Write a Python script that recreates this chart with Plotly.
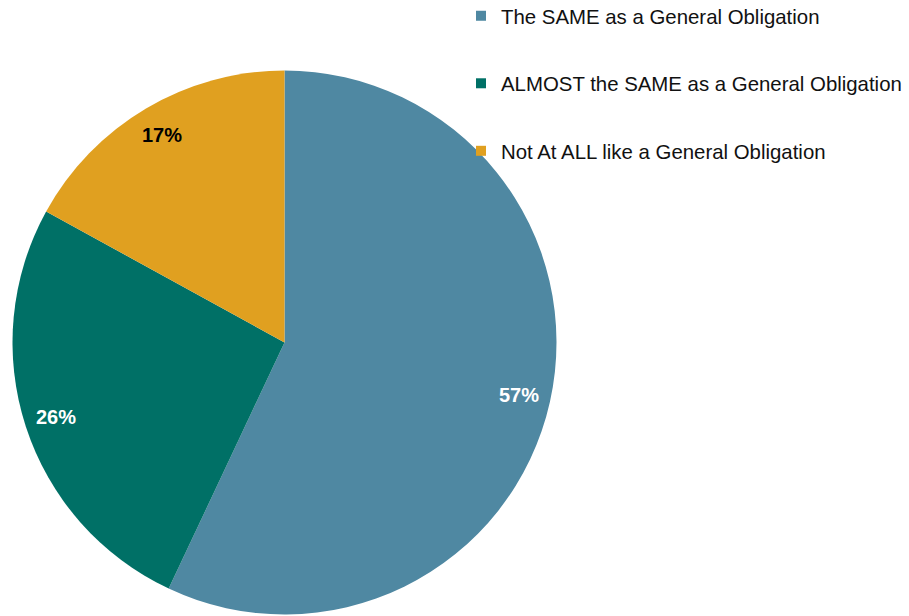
import math
import plotly.graph_objects as go

# Survey answer categories and their shares (%)
categories = [
    "The SAME as a General Obligation",
    "ALMOST the SAME as a General Obligation",
    "Not At ALL like a General Obligation",
]
shares = [57, 26, 17]
colors = ["#4f88a2", "#007066", "#e0a020"]
label_colors = ["white", "white", "black"]

W, H = 909, 616
FONT = "Liberation Sans, Arial, sans-serif"

# pie geometry in pixels
cx, cy, R = 284.5, 342.5, 272.0

fig = go.Figure()

fig.add_trace(go.Pie(
    labels=categories,
    values=shares,
    sort=False,
    direction="clockwise",
    rotation=0,
    marker=dict(colors=colors, line=dict(width=0)),
    textinfo="none",
    hoverinfo="label+percent",
    showlegend=False,
    domain=dict(x=[(cx - R) / W, (cx + R) / W], y=[1 - (cy + R) / H, 1 - (cy - R) / H]),
))

# legend entries, one group each so the group gap spaces them out
for i, (name, col) in enumerate(zip(categories, colors)):
    fig.add_trace(go.Scatter(
        x=[None], y=[None], mode="markers", name=name,
        marker=dict(symbol="square", size=10, color=col),
        legendgroup=f"g{i}", showlegend=True,
    ))

# percentage labels placed along each slice's mid-angle
annotations = []
total = sum(shares)
cum = 0.0
for v, tc in zip(shares, label_colors):
    mid = (cum + v / 2) / total * 2 * math.pi
    cum += v
    r = 0.885 * R
    px = cx + r * math.sin(mid)
    py = cy - r * math.cos(mid)
    annotations.append(dict(
        x=px / W, y=1 - py / H, xref="paper", yref="paper",
        text=f"<b>{v}%</b>", showarrow=False,
        font=dict(family=FONT, size=20, color=tc),
        xanchor="center", yanchor="middle",
    ))

fig.update_layout(
    width=W, height=H,
    margin=dict(l=0, r=0, t=0, b=0, autoexpand=False),
    paper_bgcolor="white",
    plot_bgcolor="white",
    xaxis=dict(visible=False),
    yaxis=dict(visible=False),
    annotations=annotations,
    legend=dict(
        x=461 / W, y=1 + 4 / H, xanchor="left", yanchor="top",
        font=dict(family=FONT, size=20.4, color="#111111"),
        tracegroupgap=38,
        bgcolor="rgba(0,0,0,0)",
        itemclick=False, itemdoubleclick=False,
    ),
)

fig.write_html("out.html")
